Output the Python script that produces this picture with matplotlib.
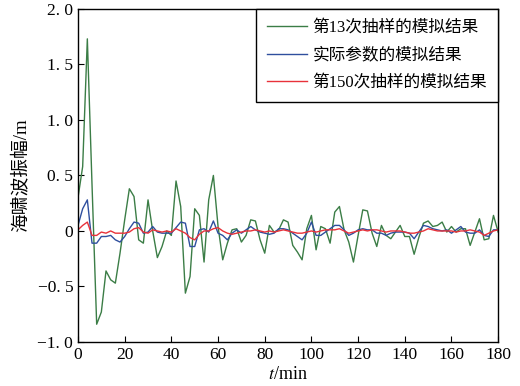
import numpy as np
import matplotlib
matplotlib.use("Agg")
import matplotlib.pyplot as plt

plt.rcParams["font.family"] = ["Liberation Serif", "Noto Sans CJK SC"]
plt.rcParams["mathtext.fontset"] = "stix"

# time axis, one sample every 2 min
t = np.arange(0, 181, 2)

# 第13次抽样的模拟结果
green = [0.30, 0.58, 1.73, 0.42, -0.84, -0.73, -0.36, -0.44, -0.47, -0.20,
         0.10, 0.38, 0.31, -0.08, -0.11, 0.28, 0.00, -0.24, -0.14, 0.00,
         -0.04, 0.45, 0.22, -0.56, -0.41, 0.20, 0.14, -0.28, 0.28, 0.50,
         0.04, -0.26, -0.11, 0.01, 0.02, -0.10, -0.04, 0.10, 0.09, -0.08,
         -0.20, 0.05, -0.01, 0.01, 0.10, 0.08, -0.13, -0.19, -0.26, 0.02,
         0.14, -0.17, 0.04, 0.02, -0.11, 0.17, 0.22, 0.01, -0.10, -0.28,
         -0.04, 0.19, 0.18, -0.02, -0.14, 0.05, -0.04, -0.07, -0.01, 0.05,
         -0.05, -0.05, -0.21, -0.06, 0.07, 0.09, 0.04, 0.05, 0.08, -0.01,
         0.04, -0.01, 0.02, 0.02, -0.13, -0.01, 0.11, -0.08, -0.07, 0.14,
         -0.01]

# 实际参数的模拟结果
blue = [0.05, 0.20, 0.28, -0.11, -0.11, -0.05, -0.05, -0.04, -0.08, -0.10,
        -0.05, 0.02, 0.08, 0.07, -0.02, -0.01, 0.04, -0.01, -0.02, -0.02,
        -0.02, 0.03, 0.08, 0.07, -0.14, -0.14, 0.01, 0.02, -0.01, 0.09,
        -0.02, -0.04, -0.08, -0.02, 0.01, -0.02, 0.01, 0.04, 0.01, -0.01,
        -0.02, -0.03, -0.02, 0.02, 0.02, 0.01, -0.02, -0.05, -0.08, -0.02,
        0.08, -0.04, -0.04, -0.01, 0.02, 0.05, 0.05, 0.01, -0.04, -0.02,
        0.01, 0.02, 0.01, 0.01, -0.02, -0.02, -0.04, -0.02, -0.01, -0.01,
        -0.01, -0.02, -0.07, -0.01, 0.05, 0.04, 0.02, 0.01, 0.00, 0.01,
        -0.02, 0.01, 0.04, -0.01, -0.02, -0.02, 0.01, -0.04, -0.05, 0.01,
        0.01]

# 第150次抽样的模拟结果
red = [0.01, 0.05, 0.08, -0.04, -0.04, -0.01, -0.02, 0.00, -0.02, -0.02,
       -0.02, -0.01, 0.02, 0.03, -0.01, -0.02, 0.01, 0.00, -0.01, 0.00,
       -0.01, 0.02, 0.00, -0.02, -0.06, -0.08, -0.03, 0.00, 0.00, 0.02,
       0.03, 0.00, -0.02, -0.03, -0.02, -0.01, 0.00, 0.00, 0.01, 0.00,
       -0.01, 0.00, -0.01, 0.00, 0.01, 0.00, -0.01, -0.02, -0.02, -0.01,
       0.00, -0.01, 0.00, 0.01, 0.01, 0.01, 0.02, 0.00, -0.02, -0.01,
       0.00, 0.01, 0.00, 0.01, 0.01, 0.00, -0.01, 0.00, 0.00, 0.00,
       -0.01, -0.02, -0.02, -0.01, 0.00, 0.02, 0.01, 0.00, 0.00, 0.00,
       0.00, -0.01, 0.00, 0.00, 0.01, 0.00, -0.01, -0.04, -0.02, 0.00,
       0.01]

labels = ["第13次抽样的模拟结果", "实际参数的模拟结果", "第150次抽样的模拟结果"]
colors = ["#3b7d46", "#2f4f9e", "#e8323a"]

yticks = [-1.0, -0.5, 0, 0.5, 1.0, 1.5, 2.0]
yticklabels = ["\u22121. 0", "\u22120. 5", "0", "0. 5", "1. 0", "1. 5", "2. 0"]
xticks = list(range(0, 181, 20))

fig = plt.figure(figsize=(5.2, 3.86), dpi=100)
ax = fig.add_axes([0.15, 0.114, 0.808, 0.863])

for y, lab, c in zip([green, blue, red], labels, colors):
    ax.plot(t, y, color=c, lw=1.0, label=lab)

ax.set_xlim(0, 180)
ax.set_ylim(-1.0, 2.0)
ax.set_xticks(xticks)
ax.set_yticks(yticks)
ax.set_yticklabels(yticklabels)
ax.tick_params(direction="in", length=4, labelsize=12.5, top=False, right=False)
for s in ax.spines.values():
    s.set_linewidth(1.0)

ax.set_xlabel("$t$/min", fontsize=13, labelpad=2)
ax.set_ylabel("海啸波振幅/m", fontsize=13.5, labelpad=6)

leg = ax.legend(loc="upper right", fontsize=12, frameon=True, fancybox=False,
                borderaxespad=0, handlelength=2.4, handletextpad=0.35,
                edgecolor="black", framealpha=1, borderpad=0.65,
                labelspacing=0.7)
leg.get_frame().set_linewidth(1.0)

fig.savefig("out.png", dpi=100)
